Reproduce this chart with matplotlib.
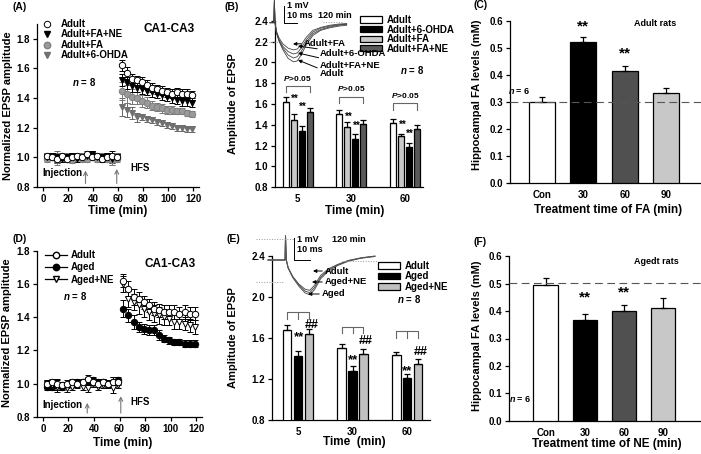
import matplotlib.pyplot as plt
from matplotlib.lines import Line2D
from matplotlib.patches import Patch
import numpy as np

plt.rcParams['font.family'] = ['Liberation Sans', 'DejaVu Sans']
plt.rcParams['font.weight'] = 'bold'
plt.rcParams['axes.labelweight'] = 'bold'
plt.rcParams['font.size'] = 7
plt.rcParams['axes.linewidth'] = 0.9
plt.rcParams['xtick.major.width'] = 0.9
plt.rcParams['ytick.major.width'] = 0.9
plt.rcParams['xtick.major.size'] = 3
plt.rcParams['ytick.major.size'] = 3
plt.rcParams['xtick.major.pad'] = 2
plt.rcParams['ytick.major.pad'] = 2
plt.rcParams['mathtext.fontset'] = 'custom'
plt.rcParams['mathtext.it'] = 'Liberation Sans:italic:bold'
plt.rcParams['mathtext.rm'] = 'Liberation Sans:bold'

W, H = 701, 454

# ---------------- data ----------------
# (A) / (D) time course, one point every 4 min
t_base = [3, 7, 11, 15, 19, 23, 27, 31, 35, 39, 43, 47, 51, 55, 59]
t_hfs = [63, 67, 71, 75, 79, 83, 87, 91, 95, 99, 103, 107, 111, 115, 119]
err_base = [0.02, 0.02, 0.03, 0.02, 0.02, 0.02, 0.02, 0.02, 0.02, 0.02, 0.02, 0.02, 0.02, 0.03, 0.02]

a_adult_base = [1.01, 1.00, 0.99, 1.01, 0.99, 1.00, 1.01, 1.00, 1.02, 1.00, 1.01, 0.99, 1.00, 1.01, 1.00]
a_adult_hfs = [1.62, 1.57, 1.53, 1.52, 1.51, 1.49, 1.47, 1.46, 1.45, 1.44, 1.43, 1.44, 1.43, 1.43, 1.42]
a_adult_err = [0.04, 0.04, 0.03, 0.03, 0.03, 0.03, 0.03, 0.03, 0.03, 0.03, 0.03, 0.03, 0.03, 0.03, 0.03]
a_fane_base = [1.00, 1.01, 1.00, 0.99, 1.00, 1.01, 0.99, 1.00, 1.01, 1.02, 1.00, 1.00, 1.01, 0.99, 1.00]
a_fane_hfs = [1.52, 1.50, 1.48, 1.47, 1.46, 1.45, 1.44, 1.43, 1.42, 1.41, 1.40, 1.39, 1.38, 1.38, 1.37]
a_fane_err = [0.04, 0.04, 0.04, 0.03, 0.03, 0.03, 0.03, 0.03, 0.03, 0.03, 0.03, 0.03, 0.03, 0.03, 0.03]
a_fa_base = [0.99, 1.00, 0.98, 1.00, 0.99, 0.98, 1.00, 0.99, 0.99, 1.00, 0.99, 1.00, 0.99, 0.98, 0.99]
a_fa_hfs = [1.45, 1.43, 1.41, 1.40, 1.38, 1.37, 1.35, 1.34, 1.33, 1.32, 1.32, 1.31, 1.31, 1.30, 1.29]
a_fa_err = [0.06, 0.06, 0.05, 0.04, 0.04, 0.04, 0.03, 0.03, 0.03, 0.03, 0.03, 0.02, 0.02, 0.02, 0.02]
a_ohda_base = [1.01, 1.00, 1.01, 1.00, 1.01, 0.99, 1.01, 1.01, 1.00, 1.02, 1.00, 1.01, 1.00, 0.98, 1.01]
a_ohda_hfs = [1.34, 1.32, 1.30, 1.27, 1.27, 1.26, 1.25, 1.24, 1.23, 1.22, 1.21, 1.20, 1.20, 1.19, 1.19]
a_ohda_err = [0.06, 0.05, 0.04, 0.03, 0.02, 0.02, 0.02, 0.02, 0.02, 0.02, 0.02, 0.02, 0.02, 0.02, 0.02]

d_adult_base = [1.00, 1.01, 1.00, 0.99, 1.00, 1.01, 1.00, 1.01, 1.03, 1.01, 1.00, 1.01, 1.00, 1.01, 1.01]
d_adult_hfs = [1.62, 1.57, 1.52, 1.51, 1.49, 1.47, 1.45, 1.44, 1.43, 1.43, 1.43, 1.42, 1.43, 1.42, 1.42]
d_adult_err = [0.04, 0.05, 0.05, 0.04, 0.04, 0.04, 0.04, 0.04, 0.04, 0.04, 0.04, 0.04, 0.04, 0.04, 0.04]
d_aged_base = [0.98, 0.98, 0.99, 0.98, 0.99, 1.00, 1.01, 1.01, 1.02, 1.02, 1.01, 1.01, 1.00, 1.01, 1.02]
d_aged_hfs = [1.45, 1.41, 1.37, 1.34, 1.33, 1.32, 1.32, 1.29, 1.27, 1.26, 1.25, 1.25, 1.24, 1.24, 1.24]
d_aged_err = [0.05, 0.04, 0.04, 0.03, 0.03, 0.03, 0.03, 0.03, 0.02, 0.02, 0.02, 0.02, 0.02, 0.02, 0.02]
d_agedne_base = [1.00, 0.99, 0.98, 0.99, 0.97, 0.98, 0.99, 0.98, 0.97, 1.00, 0.98, 0.99, 0.99, 0.97, 0.99]
d_agedne_hfs = [1.60, 1.51, 1.49, 1.47, 1.45, 1.43, 1.42, 1.41, 1.40, 1.39, 1.37, 1.37, 1.36, 1.35, 1.34]
d_agedne_err = [0.05, 0.05, 0.05, 0.05, 0.05, 0.05, 0.05, 0.05, 0.05, 0.04, 0.04, 0.04, 0.04, 0.04, 0.04]

# (B) / (E) bars
bar_times = ['5', '30', '60']
b_adult = [1.62, 1.50, 1.42]
b_adult_err = [0.045, 0.04, 0.035]
b_fa = [1.45, 1.38, 1.29]
b_fa_err = [0.055, 0.045, 0.02]
b_ohda = [1.34, 1.26, 1.19]
b_ohda_err = [0.05, 0.05, 0.04]
b_fane = [1.52, 1.41, 1.36]
b_fane_err = [0.04, 0.04, 0.04]

e_adult = [1.68, 1.50, 1.43]
e_adult_err = [0.045, 0.04, 0.03]
e_aged = [1.42, 1.28, 1.21]
e_aged_err = [0.05, 0.05, 0.04]
e_agedne = [1.64, 1.44, 1.35]
e_agedne_err = [0.05, 0.05, 0.04]

# (C) / (F) FA levels
fa_cats = ['Con', '30', '60', '90']
c_vals = [0.30, 0.52, 0.415, 0.333]
c_err = [0.016, 0.021, 0.018, 0.016]
c_ref = 0.30
f_vals = [0.495, 0.368, 0.399, 0.411]
f_err = [0.027, 0.023, 0.023, 0.035]
f_ref = 0.503

# EPSP example traces (ms, mV)
tr_b_t = [0, 3, 3.4, 3.9, 5, 7, 10, 14, 18, 21, 24, 28, 33, 39, 46, 53, 59]
tr_b_adult = [0, 0, 1.3, 0, -0.6, -1.1, -1.6, -2.1, -2.3, -2.25, -1.9, -1.3, -0.75, -0.45, -0.3, -0.2, -0.15]
tr_b_fane = [0, 0, 1.3, 0, -0.6, -1.05, -1.5, -1.9, -2.08, -2.0, -1.7, -1.15, -0.65, -0.4, -0.25, -0.15, -0.1]
tr_b_ohda = [0, 0, 1.3, 0, -0.55, -1.0, -1.4, -1.7, -1.84, -1.78, -1.5, -1.0, -0.55, -0.32, -0.2, -0.12, -0.08]
tr_b_fa = [0, 0, 1.3, 0, -0.5, -0.9, -1.25, -1.5, -1.6, -1.55, -1.3, -0.85, -0.45, -0.28, -0.15, -0.08, -0.05]

tr_e_t = [0, 11, 11.3, 11.8, 13, 16, 20, 24, 27, 30, 34, 39, 45, 52, 60, 69]
tr_e_adult = [0, 0, 1.1, 0, -0.35, -0.75, -1.1, -1.33, -1.38, -1.15, -0.7, -0.4, -0.2, -0.02, 0.1, 0.18]
tr_e_agedne = [0, 0, 1.1, 0, -0.35, -0.78, -1.15, -1.42, -1.48, -1.25, -0.78, -0.45, -0.22, -0.03, 0.09, 0.17]
tr_e_aged = [0, 0, 1.1, 0, -0.37, -0.8, -1.2, -1.5, -1.58, -1.35, -0.85, -0.5, -0.25, -0.05, 0.08, 0.16]

# ---------------- figure ----------------
fig = plt.figure(figsize=(W / 100, H / 100), dpi=100)


def px_axes(x0, y0, x1, y1):
    # box given in image pixels, origin top-left
    return fig.add_axes([x0 / W, 1 - y1 / H, (x1 - x0) / W, (y1 - y0) / H])


def clean(ax):
    ax.spines['top'].set_visible(False)
    ax.spines['right'].set_visible(False)
    ax.tick_params(labelsize=7, direction='out')


ov = fig.add_axes([0, 0, 1, 1])
ov.set_xlim(0, W)
ov.set_ylim(H, 0)
ov.axis('off')
ov.set_zorder(20)


def txt(x, y, s, size=7, ha='center', **kw):
    ov.text(x, y, s, fontsize=size, ha=ha, va='center', **kw)


def timecourse(ax, base, hfs, err, marker, fc, ec, ecol):
    t = t_base + t_hfs
    y = base + hfs
    e = err_base + err
    ax.errorbar(t, y, yerr=e, fmt=marker, ms=4.6, mfc=fc, mec=ec, mew=0.7,
                ecolor=ecol, elinewidth=0.7, capsize=2, capthick=0.7, zorder=3)


# ---- (A) ----
ax_a = px_axes(36.75, 24, 199.25, 187)
clean(ax_a)
timecourse(ax_a, a_ohda_base, a_ohda_hfs, a_ohda_err, 'v', '#707070', '#707070', '#666666')
timecourse(ax_a, a_fa_base, a_fa_hfs, a_fa_err, 'o', '#9a9a9a', '#808080', '#777777')
timecourse(ax_a, a_fane_base, a_fane_hfs, a_fane_err, 'v', 'black', 'black', 'black')
timecourse(ax_a, a_adult_base, a_adult_hfs, a_adult_err, 'o', 'white', 'black', 'black')
ax_a.set_xlim(-5, 125)
ax_a.set_ylim(0.8, 1.9)
ax_a.set_xticks([0, 20, 40, 60, 80, 100, 120])
ax_a.set_yticks([0.8, 1.0, 1.2, 1.4, 1.6, 1.8])
ax_a.annotate('', xy=(34, 0.93), xytext=(34, 0.805),
              arrowprops=dict(arrowstyle='->', color='#777777', lw=0.8))
ax_a.annotate('', xy=(59, 0.94), xytext=(59, 0.805),
              arrowprops=dict(arrowstyle='->', color='#777777', lw=0.8))
leg_a = [Line2D([], [], ls='none', marker='o', ms=4.6, mfc='white', mec='black', mew=0.7),
         Line2D([], [], ls='none', marker='v', ms=4.6, mfc='black', mec='black'),
         Line2D([], [], ls='none', marker='o', ms=4.6, mfc='#9a9a9a', mec='#808080'),
         Line2D([], [], ls='none', marker='v', ms=4.6, mfc='#707070', mec='#707070')]
ax_a.legend(leg_a, ['Adult', 'Adult+FA+NE', 'Adult+FA', 'Adult+6-OHDA'], loc='upper left',
            bbox_to_anchor=(41, 19), bbox_transform=ov.transData, frameon=False,
            fontsize=7, handlelength=1.2, handletextpad=0.8, labelspacing=0.05,
            borderpad=0, borderaxespad=0)

# ---- (D) ----
ax_d = px_axes(36.6, 250.7, 202.4, 416.7)
clean(ax_d)
timecourse(ax_d, d_aged_base, d_aged_hfs, d_aged_err, 'o', 'black', 'black', 'black')
timecourse(ax_d, d_agedne_base, d_agedne_hfs, d_agedne_err, 'v', 'white', 'black', 'black')
timecourse(ax_d, d_adult_base, d_adult_hfs, d_adult_err, 'o', 'white', 'black', 'black')
ax_d.set_xlim(-5, 125)
ax_d.set_ylim(0.8, 1.8)
ax_d.set_xticks([0, 20, 40, 60, 80, 100, 120])
ax_d.set_yticks([0.8, 1.0, 1.2, 1.4, 1.6, 1.8])
ax_d.annotate('', xy=(34.7, 0.9), xytext=(34.7, 0.805),
              arrowprops=dict(arrowstyle='->', color='#777777', lw=0.8))
ax_d.annotate('', xy=(61, 0.94), xytext=(61, 0.805),
              arrowprops=dict(arrowstyle='->', color='#777777', lw=0.8))
leg_d = [Line2D([], [], color='black', lw=0.9, marker='o', ms=4.6, mfc='white', mec='black'),
         Line2D([], [], color='black', lw=0.9, marker='o', ms=4.6, mfc='black', mec='black'),
         Line2D([], [], color='black', lw=0.9, marker='v', ms=4.6, mfc='white', mec='black')]
ax_d.legend(leg_d, ['Adult', 'Aged', 'Aged+NE'], loc='upper left',
            bbox_to_anchor=(45, 250), bbox_transform=ov.transData, frameon=False,
            fontsize=7, handlelength=2.3, handletextpad=0.3, labelspacing=0.25,
            borderpad=0, borderaxespad=0)


def bar_set(ax, pos, vals, errs, color, width):
    ax.bar(pos, vals, width, color=color, edgecolor='black', linewidth=0.9,
           yerr=[np.zeros(len(vals)), errs], capsize=2,
           error_kw=dict(elinewidth=0.9, capthick=0.9), zorder=3)


# ---- (B) ----
ax_b = px_axes(275, 20.7, 423, 187.3)
clean(ax_b)
xb = np.arange(len(bar_times))
wb = 0.115
bar_set(ax_b, xb - 0.225, b_adult, b_adult_err, 'white', wb)
bar_set(ax_b, xb - 0.075, b_fa, b_fa_err, '#c8c8c8', wb)
bar_set(ax_b, xb + 0.075, b_ohda, b_ohda_err, 'black', wb)
bar_set(ax_b, xb + 0.225, b_fane, b_fane_err, '#5a5a5a', wb)
ax_b.set_xlim(-0.424, 2.34)
ax_b.set_ylim(0.8, 2.4)
ax_b.set_xticks(xb)
ax_b.set_xticklabels(bar_times)
ax_b.tick_params(axis='x', length=0, pad=5)
ax_b.set_yticks([0.8, 1.0, 1.2, 1.4, 1.6, 1.8, 2.0, 2.2, 2.4])
b_brk_top = [1.773, 1.67, 1.61]
b_brk_leg = [1.72, 1.61, 1.54]
for i in range(3):
    ax_b.plot([i - 0.225, i - 0.225, i + 0.225, i + 0.225],
              [b_brk_leg[i], b_brk_top[i], b_brk_top[i], b_brk_leg[i]], color='#666666', lw=0.8)
    ax_b.text(i, b_brk_top[i] + 0.075, '$\\it{P}$>0.05', ha='center', va='center', fontsize=6)
b_star1 = [(-0.06, 1.645), (0.95, 1.478), (1.96, 1.398)]
b_star2 = [(0.09, 1.568), (1.11, 1.389), (2.10, 1.309)]
for x, y in b_star1 + b_star2:
    ax_b.text(x, y, '**', ha='center', va='center', fontsize=7)
leg_b = [Patch(fc='white', ec='black', lw=0.9), Patch(fc='black', ec='black', lw=0.9),
         Patch(fc='#c8c8c8', ec='black', lw=0.9), Patch(fc='#5a5a5a', ec='black', lw=0.9)]
ax_b.legend(leg_b, ['Adult', 'Adult+6-OHDA', 'Adult+FA', 'Adult+FA+NE'], loc='upper left',
            bbox_to_anchor=(360, 15), bbox_transform=ov.transData, frameon=False,
            fontsize=7, handlelength=2.3, handleheight=0.6, handletextpad=0.5,
            labelspacing=-0.05, borderpad=0, borderaxespad=0)

# inset traces (B)
ib = px_axes(255, 0, 352, 72)
ib.set_xlim(-11.5, 63.1)
ib.set_ylim(-2.9, 1.335)
ib.axis('off')
ib.set_zorder(5)
for tr in [tr_b_adult, tr_b_fane, tr_b_ohda, tr_b_fa]:
    ib.plot(tr_b_t, tr, color='#444444', lw=0.6)
ib.plot([11, 11, 21], [1, 0, 0], color='black', lw=0.7)
ib.plot([-11, 6], [-1.12, -1.12], color='#999999', lw=0.7, ls=':')
ib.plot([41, 56], [0.06, 0.06], color='#999999', lw=0.7, ls=':')

# ---- (E) ----
ax_e = px_axes(272, 255.7, 430, 420)
clean(ax_e)
xe = np.arange(len(bar_times))
we = 0.16
bar_set(ax_e, xe - 0.2, e_adult, e_adult_err, 'white', we)
bar_set(ax_e, xe, e_aged, e_aged_err, 'black', we)
bar_set(ax_e, xe + 0.2, e_agedne, e_agedne_err, '#c0c0c0', we)
ax_e.set_xlim(-0.477, 2.42)
ax_e.set_ylim(0.8, 2.4)
ax_e.set_xticks(xe)
ax_e.set_xticklabels(bar_times)
ax_e.tick_params(axis='x', length=0, pad=5)
ax_e.set_yticks([0.8, 1.2, 1.6, 2.0, 2.4])
e_brk_top = [1.849, 1.709, 1.664]
e_brk_leg = [1.784, 1.644, 1.60]
for i in range(3):
    ax_e.plot([i - 0.2, i - 0.2, i + 0.2, i + 0.2],
              [e_brk_leg[i], e_brk_top[i], e_brk_top[i], e_brk_leg[i]], color='#666666', lw=0.8)
    ax_e.plot([i, i], [e_brk_top[i], e_brk_leg[i]], color='#666666', lw=0.8)
e_star = [(0.02, 1.61), (1.0, 1.38), (2.0, 1.28)]
e_hash = [(0.25, 1.73), (1.25, 1.566), (2.25, 1.465)]
for x, y in e_star:
    ax_e.text(x, y, '**', ha='center', va='center', fontsize=9.5)
for x, y in e_hash:
    ax_e.text(x, y, '##', ha='center', va='center', fontsize=9)
leg_e = [Patch(fc='white', ec='black', lw=0.9), Patch(fc='black', ec='black', lw=0.9),
         Patch(fc='#c0c0c0', ec='black', lw=0.9)]
ax_e.legend(leg_e, ['Adult', 'Aged', 'Aged+NE'], loc='upper left',
            bbox_to_anchor=(378, 261), bbox_transform=ov.transData, frameon=False,
            fontsize=7, handlelength=2.3, handleheight=0.6, handletextpad=0.5,
            labelspacing=0.05, borderpad=0, borderaxespad=0)

# inset traces (E)
ie = px_axes(255, 228, 380, 302)
ie.set_xlim(-8.4, 72.3)
ie.set_ylim(-1.909, 1.4545)
ie.axis('off')
ie.set_zorder(5)
for tr in [tr_e_adult, tr_e_agedne, tr_e_aged]:
    ie.plot(tr_e_t, tr, color='#555555', lw=0.7)
ie.plot([17, 17, 27], [1, 0, 0], color='black', lw=0.7)
ie.plot([-8, 16], [0.95, 0.95], color='#999999', lw=0.7, ls=':')
ie.plot([-8, 10], [-1.0, -1.0], color='#999999', lw=0.7, ls=':')
ie.plot([48, 71], [-0.05, -0.05], color='#999999', lw=0.7, ls=':')


def fa_panel(ax, vals, errs, ref, xmax):
    clean(ax)
    x = np.arange(len(fa_cats))
    colors = ['white', 'black', '#505050', '#c8c8c8']
    ax.bar(x, vals, 0.63, color=colors, edgecolor='black', linewidth=0.9,
           yerr=[np.zeros(len(vals)), errs], capsize=2.5,
           error_kw=dict(elinewidth=0.9, capthick=0.9), zorder=3)
    ax.axhline(ref, color='#555555', lw=0.8, ls=(0, (7, 4)), zorder=4)
    ax.set_xlim(-0.78, xmax)
    ax.set_ylim(0, 0.6)
    ax.set_xticks(x)
    ax.set_xticklabels(fa_cats)
    ax.tick_params(axis='x', length=0, pad=5)
    ax.set_yticks([0.0, 0.1, 0.2, 0.3, 0.4, 0.5, 0.6])


# ---- (C) ----
ax_c = px_axes(510, 20.7, 701, 182.7)
fa_panel(ax_c, c_vals, c_err, c_ref, 3.85)
ax_c.text(1, 0.578, '**', ha='center', va='center', fontsize=11)
ax_c.text(2, 0.478, '**', ha='center', va='center', fontsize=11)

# ---- (F) ----
ax_f = px_axes(509, 256.3, 701, 420.7)
fa_panel(ax_f, f_vals, f_err, f_ref, 3.97)
ax_f.set_xlim(-0.94, 3.97)
ax_f.text(1, 0.448, '**', ha='center', va='center', fontsize=11)
ax_f.text(2, 0.468, '**', ha='center', va='center', fontsize=11)

# ---------------- text (image pixels) ----------------
for s, x, y in [('(A)', 19.5, 7), ('(B)', 232, 7), ('(C)', 480.5, 5),
                ('(D)', 20, 239), ('(E)', 233, 239), ('(F)', 480, 242)]:
    txt(x, y, s, size=7.5)

txt(8, 106, 'Normalized EPSP amplitude', size=8, rotation=90)
txt(7, 333, 'Normalized EPSP amplitude', size=8, rotation=90)
txt(233, 104, 'Amplitude of EPSP', size=8, rotation=90)
txt(233, 338, 'Amplitude of EPSP', size=8, rotation=90)
txt(477, 95, 'Hippocampal FA levels (mM)', size=8, rotation=90)
txt(477, 336, 'Hippocampal FA levels (mM)', size=8, rotation=90)

txt(118, 211, 'Time (min)', size=8.5)
txt(354.5, 211, 'Time (min)', size=8.5)
txt(608.5, 210, 'Treatment time of FA (min)', size=8.5)
txt(122.5, 443, 'Time (min)', size=8.5)
txt(354.5, 442, 'Time  (min)', size=8.5)
txt(607, 444, 'Treatment time of NE (min)', size=8.5)

txt(169, 29, 'CA1-CA3', size=8.5)
txt(170.5, 264, 'CA1-CA3', size=8.5)
txt(84.5, 82, '$\\it{n}$ = 8', size=7)
txt(75, 296, '$\\it{n}$ = 8', size=7)
txt(412.5, 70, '$\\it{n}$ = 8', size=7)
txt(409, 299, '$\\it{n}$ = 8', size=7)
txt(519, 91, '$\\it{n}$ = 6', size=6.5)
txt(520, 399, '$\\it{n}$ = 6', size=6.5)
txt(655, 23, 'Adult rats', size=6.5)
txt(656.5, 262, 'Agedt rats', size=6.5)

txt(42, 172.5, 'Injection', size=7, ha='left')
txt(130, 168, 'HFS', size=7, ha='left')
txt(42, 405.5, 'Injection', size=7, ha='left')
txt(130, 402, 'HFS', size=7, ha='left')

# scale-bar labels
txt(287, 6, '1 mV', size=6.5, ha='left')
txt(287, 15, '10 ms', size=6.5, ha='left')
txt(318, 15, '120 min', size=6.5, ha='left')
txt(297, 240, '1 mV', size=6.5, ha='left')
txt(297, 250, '10 ms', size=6.5, ha='left')
txt(332, 240, '120 min', size=6.5, ha='left')

arr = dict(arrowstyle='-|>', color='black', lw=0.7, mutation_scale=5, shrinkA=0, shrinkB=0)
for s, xy, xyt in [('Adult+FA', (293, 44), (304, 43)),
                   ('Adult+6-OHDA', (298, 46), (320, 54)),
                   ('Adult+FA+NE', (298, 53), (320, 65)),
                   ('Adult', (298, 60), (320, 74)),
                   ('Adult', (313, 271), (325, 271)),
                   ('Aged+NE', (312, 282), (325, 282)),
                   ('Aged', (308, 294), (322, 294))]:
    ov.annotate(s, xy=xy, xytext=xyt, fontsize=6.8, ha='left', va='center', arrowprops=arr)

plt.savefig('out.png', dpi=100)
